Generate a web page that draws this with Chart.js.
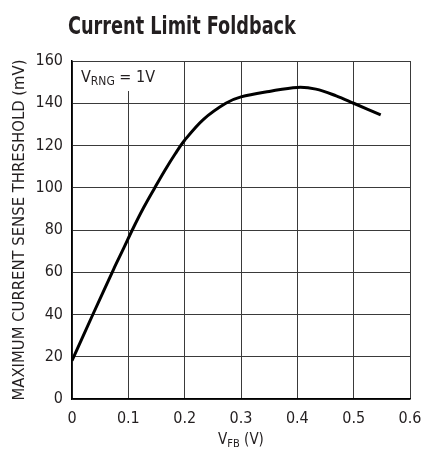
<!DOCTYPE html>
<html>
<head>
<meta charset="utf-8">
<script src="https://cdn.jsdelivr.net/npm/chart.js@4/dist/chart.umd.min.js"></script>
<style>
  html, body { margin: 0; padding: 0; background: #fff; }
  #wrap { position: relative; width: 424px; height: 451px; }
  #title {
    position: absolute; left: 68px; top: 12px;
    font-family: 'DejaVu Sans Condensed', 'Liberation Sans Narrow', sans-serif;
    font-weight: bold; font-size: 24px; color: #231f20; white-space: nowrap;
    transform: scaleX(0.82); transform-origin: left top;
  }
</style>
</head>
<body>
<div id="wrap">
  <div id="title">Current Limit Foldback</div>
  <canvas id="chartCanvas" width="424" height="451"></canvas>
</div>
<script>
// V_FB (V) vs max current sense threshold (mV)
const vfb = [0, 0.037, 0.074, 0.092, 0.107, 0.127, 0.147, 0.165, 0.183, 0.2, 0.233, 0.273, 0.3, 0.35, 0.4, 0.433, 0.469, 0.5, 0.548];
const threshold = [18.2, 40, 61.5, 71.5, 80, 90.5, 100, 108.3, 116, 122.5, 132.3, 140, 143, 145.6, 147.5, 146.7, 143.5, 140, 134.5];
const xTicks = ['0', '0.1', '0.2', '0.3', '0.4', '0.5', '0.6'];
const yTicks = ['0', '20', '40', '60', '80', '100', '120', '140', '160'];

const FONT = "'DejaVu Sans Condensed', 'Liberation Sans Narrow', sans-serif";
const INK = '#231f20';

// label text with a subscript part: [base, sub, rest]
function drawSub(ctx, x, y, parts, size, align){
  const [base, sub, rest] = parts;
  const subSize = Math.round(size * 0.75);
  ctx.font = size + 'px ' + FONT;
  const w1 = ctx.measureText(base).width;
  const w3 = ctx.measureText(rest).width;
  ctx.font = subSize + 'px ' + FONT;
  const w2 = ctx.measureText(sub).width;
  let x0 = align === 'center' ? x - (w1 + w2 + w3) / 2 : x;
  ctx.textAlign = 'left';
  ctx.textBaseline = 'alphabetic';
  ctx.fillStyle = INK;
  ctx.font = size + 'px ' + FONT;
  ctx.fillText(base, x0, y);
  ctx.font = subSize + 'px ' + FONT;
  ctx.fillText(sub, x0 + w1, y + 3);
  ctx.font = size + 'px ' + FONT;
  ctx.fillText(rest, x0 + w1 + w2, y);
}

const labels = {
  id: 'labels',
  afterDraw(chart){
    const {ctx, chartArea: a} = chart;
    ctx.save();
    // annotation box over the grid
    ctx.fillStyle = '#fff';
    ctx.fillRect(a.left + 1, a.top + 1, 84, 29);
    drawSub(ctx, a.left + 9, a.top + 21, ['V', 'RNG', ' = 1V'], 16, 'left');
    // x axis title
    drawSub(ctx, (a.left + a.right) / 2, a.bottom + 45, ['V', 'FB', ' (V)'], 15, 'center');
    ctx.restore();
  }
};

const ctx = document.getElementById('chartCanvas').getContext('2d');
new Chart(ctx, {
  type: 'line',
  data: {
    datasets: [{
      data: vfb.map((v, i) => ({x: v, y: threshold[i]})),
      borderColor: '#000',
      borderWidth: 3,
      pointRadius: 0,
      fill: false,
      tension: 0.35
    }]
  },
  options: {
    responsive: false,
    animation: false,
    layout: { padding: { top: 61, right: 14, left: 0, bottom: 0 } },
    plugins: { legend: { display: false }, tooltip: { enabled: false } },
    scales: {
      x: {
        type: 'linear', min: 0, max: 0.6,
        afterBuildTicks(s){ s.ticks = xTicks.map(t => ({value: Number(t)})); },
        afterFit(s){ s.height = 52; s.paddingLeft = 0; s.paddingRight = 0; },
        ticks: {
          padding: 10, color: INK, maxRotation: 0,
          font: { family: FONT, size: 16 },
          callback: (v, i) => xTicks[i]
        },
        grid: { color: '#3a3a3a', lineWidth: 1, drawTicks: false },
        border: { color: '#000', width: 1.5 }
      },
      y: {
        min: 0, max: 160,
        afterBuildTicks(s){ s.ticks = yTicks.map(t => ({value: Number(t)})); },
        afterFit(s){ s.width = 72; s.paddingTop = 0; s.paddingBottom = 0; },
        ticks: {
          padding: 9, color: INK,
          font: { family: FONT, size: 16 },
          callback: (v, i) => yTicks[i]
        },
        grid: { color: '#3a3a3a', lineWidth: 1, drawTicks: false },
        border: { color: '#000', width: 1.5 },
        title: {
          display: true,
          text: 'MAXIMUM CURRENT SENSE THRESHOLD (mV)',
          color: INK,
          font: { family: FONT, size: 16.5 },
          padding: { top: 10, bottom: 0 }
        }
      }
    }
  },
  plugins: [labels]
});
</script>
</body>
</html>
